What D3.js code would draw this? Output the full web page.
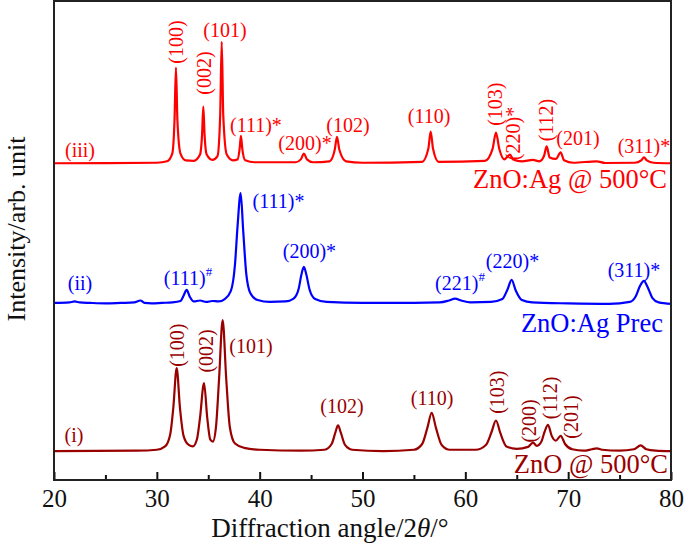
<!DOCTYPE html>
<html>
<head>
<meta charset="utf-8">
<script src="https://cdn.jsdelivr.net/npm/d3@7"></script>
<style>
  body { margin: 0; background: #fff; }
  svg text { font-family: "Liberation Serif", "Times New Roman", serif; }
</style>
</head>
<body>
<div id="chart"></div>
<script>

  ///////////////////////////////////////////////////////////////////////////
  ////////////////////////////////// Data ///////////////////////////////////
  ///////////////////////////////////////////////////////////////////////////

  // [2theta, intensity above the trace's own baseline]
  var zno500 = [
    [20,0],[28,0.1],[30,0.3],[30.8,1.0],[31.3,3.5],[31.6,9],[31.93,17.3],[32.25,9],[32.6,3.2],[33.1,1.3],
    [33.5,1.0],[33.9,2.5],[34.2,7],[34.59,14.2],[34.9,7],[35.2,2.4],[35.45,2.0],[35.75,5],[36.05,15],[36.4,27.3],
    [36.75,15],[37.1,5],[37.6,1.6],[38.5,0.7],[40,0.3],[44,0.1],[46.3,0.3],[47.0,1.5],[47.35,3.8],[47.62,5.4],
    [47.9,3.8],[48.3,1.3],[49,0.3],[52,0],[55,0.3],[55.8,1.5],[56.3,4.8],[56.73,8.0],[57.15,4.8],[57.7,1.3],
    [58.5,0.3],[61,0.3],[62.0,1.3],[62.55,4],[62.98,6.4],[63.4,3.8],[64,1.0],[65,0.5],[66.1,0.9],[66.58,1.8],
    [66.95,1.1],[67.4,2.0],[67.7,4],[68.04,5.5],[68.4,3.2],[68.8,2.2],[69.27,3.2],[69.7,1.5],[70.4,0.4],[71.5,0.1],
    [72.3,0.4],[72.77,0.6],[73.3,0.3],[75,0.1],[76.4,0.4],[77.05,1.2],[77.6,0.4],[78.5,0.1],[80,0]
  ]

  var agPrec = [
    [20,0],[21.5,0.1],[22.0,0.3],[22.5,0.1],[23.5,0],[25,-0.1],[26.5,0],[27.8,0.1],[28.4,0.5],[28.8,0],
    [29.5,-0.1],[30.5,0],[31.5,0.1],[32.3,0.4],[32.6,1.5],[32.9,2.7],[33.2,1.3],[33.6,0.3],[34.2,0.5],[34.8,0.2],
    [35.4,0.4],[36.0,0.3],[36.6,0.8],[37.2,2.5],[37.6,8],[37.85,16],[38.15,22.9],[38.4,15],[38.7,6],[39.1,2],
    [39.8,0.6],[41,0.2],[42.5,0.3],[43.3,0.9],[43.8,3],[44.05,5.8],[44.3,7.5],[44.55,5.8],[44.85,2.8],[45.4,0.8],
    [46.5,0.2],[50,0],[55,0],[57.5,0.1],[58.4,0.5],[59.0,0.9],[59.6,0.5],[60.5,0.1],[62.5,0.2],[63.6,0.8],
    [64.1,2.8],[64.5,4.8],[64.9,2.6],[65.5,0.6],[66.5,0.1],[70,-0.1],[74,-0.2],[76.0,0.2],[76.6,1.5],[77.0,3.6],
    [77.37,4.6],[77.7,3.4],[78.2,1.0],[78.8,0.1],[80,-0.2]
  ]

  var agZno500 = [
    [20,0],[30,0.1],[31.0,0.4],[31.5,2.0],[31.72,9],[31.86,19.9],[32.0,9],[32.3,2.0],[32.8,0.6],[33.6,0.5],
    [34.2,1.8],[34.4,6],[34.52,11.8],[34.64,6],[34.85,1.8],[35.4,0.7],[35.9,1.5],[36.16,10],[36.31,25.3],[36.46,10],
    [36.8,1.8],[37.4,0.6],[37.85,0.8],[38.05,3],[38.18,5.7],[38.31,3],[38.6,0.6],[39.5,0.2],[43.5,0.2],[44.0,0.8],
    [44.31,2.0],[44.6,0.8],[45.2,0.2],[46.8,0.4],[47.3,2.8],[47.52,5.5],[47.75,2.8],[48.4,0.4],[50,0.1],[55.8,0.3],
    [56.4,3],[56.63,6.6],[56.86,3],[57.4,0.3],[61.9,0.5],[62.65,3],[62.98,6.4],[63.3,3],[63.8,0.8],[64.1,1.4],
    [64.34,1.8],[64.65,0.8],[65.5,0.4],[66.58,0.7],[67.2,0.4],[67.65,1.5],[67.91,3.5],[68.2,1.2],[68.8,0.9],[69.27,2.25],
    [69.6,0.6],[70.5,0.1],[72.77,0.4],[73.6,0.05],[76.5,0.1],[77.1,0.6],[77.37,1.2],[77.65,0.6],[78.3,0.1],[80,0]
  ]

  var seriesNames = ["ZnO @ 500°C", "ZnO:Ag Prec", "ZnO:Ag @ 500°C"]
  var seriesOffsets = [6, 36.9, 66]
  var seriesColors = ["#990000", "#0000ff", "#ff0000"]

  // peak labels: [text, superscript, 2theta, intensity, vertical?]
  var zno500Labels = [
    ["(i)", "", 21.94, 7.9, false],
    ["(100)", "", 31.96, 28.1, true],
    ["(002)", "", 34.78, 26.9, true],
    ["(101)", "", 39.16, 26.5, false],
    ["(102)", "", 48.0, 14.0, false],
    ["(110)", "", 56.76, 15.6, false],
    ["(103)", "", 63.08, 18.3, true],
    ["(200)", "", 66.19, 12.3, true],
    ["(112)", "", 68.23, 17.1, true],
    ["(201)", "", 70.27, 13.1, true]
  ]

  var agPrecLabels = [
    ["(ii)", "", 22.53, 39.6, false],
    ["(111)", "#", 33.03, 40.6, false],
    ["(111)*", "", 41.83, 56.7, false],
    ["(200)*", "", 44.84, 46.25, false],
    ["(221)", "#", 59.48, 39.6, false],
    ["(220)*", "", 64.59, 44.2, false],
    ["(311)*", "", 76.4, 42.3, false]
  ]

  var agZno500Labels = [
    ["(iii)", "", 22.53, 67.3, false],
    ["(100)", "", 31.86, 91.25, true],
    ["(002)", "", 34.59, 84.8, true],
    ["(101)", "", 36.63, 92.3, false],
    ["(111)*", "", 39.64, 72.5, false],
    ["(200)*", "", 44.41, 68.75, false],
    ["(102)", "", 48.59, 72.5, false],
    ["(110)", "", 56.47, 74.4, false],
    ["(103)", "", 62.88, 78.3, true],
    ["(220)*", "", 64.63, 72.2, true],
    ["(112)", "", 67.84, 75, true],
    ["(201)", "", 70.95, 69.8, false],
    ["(311)*", "", 77.37, 68.1, false]
  ]

  // legend anchors (right aligned): [2theta, intensity]
  var legendAnchors = [[79.71, 1.46], [79.22, 30.8], [79.61, 60.8]]

  var xTicks = [20, 30, 40, 50, 60, 70, 80]
  var xMinorTicks = [25, 35, 45, 55, 65, 75]

  ///////////////////////////////////////////////////////////////////////////
  ///////////////////////////////// Setup ///////////////////////////////////
  ///////////////////////////////////////////////////////////////////////////

  var canvasDim = { width: 685, height: 547 }
  var margin = { top: 1, right: 14, bottom: 67, left: 54 }
  var width = canvasDim.width - margin.left - margin.right
  var height = canvasDim.height - margin.top - margin.bottom

  var xScale = d3.scaleLinear().domain([20, 80]).range([0, width])
  var yScale = d3.scaleLinear().domain([0, 99.8]).range([height, 0])

  var svg = d3.select("#chart").append("svg")
      .attr("width", canvasDim.width)
      .attr("height", canvasDim.height)
    .append("g")
      .attr("transform", "translate(" + margin.left + "," + margin.top + ")")

  ///////////////////////////////////////////////////////////////////////////
  ///////////////////////////////// Traces //////////////////////////////////
  ///////////////////////////////////////////////////////////////////////////

  var traces = [zno500, agPrec, agZno500]
  var labelSets = [zno500Labels, agPrecLabels, agZno500Labels]

  traces.forEach(function(pts, i) {
    var line = d3.line()
      .x(function(d) { return xScale(d[0]) })
      .y(function(d) { return yScale(d[1] + seriesOffsets[i]) })
      .curve(d3.curveMonotoneX)

    svg.append("path")
      .datum(pts)
      .attr("fill", "none")
      .attr("stroke", seriesColors[i])
      .attr("stroke-width", 2.2)
      .attr("stroke-linejoin", "round")
      .attr("d", line)

    // peak labels
    labelSets[i].forEach(function(l) {
      var t = svg.append("text")
        .attr("fill", seriesColors[i])
        .attr("font-size", 20)
        .attr("text-anchor", "middle")
      if (l[4]) {
        t.attr("transform", "translate(" + xScale(l[2]) + "," + yScale(l[3]) + ") rotate(-90)")
          .attr("dy", "0.33em")
      } else {
        t.attr("x", xScale(l[2])).attr("y", yScale(l[3]))
      }
      t.append("tspan").text(l[0])
      if (l[1]) {
        t.append("tspan").attr("font-size", 13).attr("dy", -9).text(l[1])
      }
    })

    // series name
    svg.append("text")
      .attr("x", xScale(legendAnchors[i][0]))
      .attr("y", yScale(legendAnchors[i][1]))
      .attr("text-anchor", "end")
      .attr("fill", seriesColors[i])
      .attr("font-size", 26.5)
      .text(seriesNames[i])
  })

  ///////////////////////////////////////////////////////////////////////////
  ////////////////////////////////// Axes ///////////////////////////////////
  ///////////////////////////////////////////////////////////////////////////

  var xAxis = svg.append("g")
    .attr("transform", "translate(0," + height + ")")
    .call(d3.axisBottom(xScale).tickValues(xTicks).tickSize(-8).tickPadding(9))
  xAxis.select(".domain").remove()
  xAxis.selectAll("line").attr("stroke", "#111").attr("stroke-width", 2)
  xAxis.selectAll("text")
    .attr("font-size", 25)
    .attr("fill", "#111")
    .style("font-family", "'Liberation Serif', serif")

  var xMinor = svg.append("g")
    .attr("transform", "translate(0," + height + ")")
    .call(d3.axisBottom(xScale).tickValues(xMinorTicks).tickSize(-5).tickFormat(""))
  xMinor.select(".domain").remove()
  xMinor.selectAll("line").attr("stroke", "#111").attr("stroke-width", 2)

  // frame
  svg.append("rect")
    .attr("x", 0).attr("y", 0)
    .attr("width", width).attr("height", height)
    .attr("fill", "none")
    .attr("stroke", "#222")
    .attr("stroke-width", 2)

  // axis titles
  var xTitle = svg.append("text")
    .attr("x", 276)
    .attr("y", height + 57)
    .attr("text-anchor", "middle")
    .attr("font-size", 27)
    .attr("fill", "#111")
  xTitle.append("tspan").text("Diffraction angle/2")
  xTitle.append("tspan").attr("font-style", "italic").text("θ")
  xTitle.append("tspan").text("/°")

  svg.append("text")
    .attr("transform", "translate(" + (-29) + "," + 228 + ") rotate(-90)")
    .attr("text-anchor", "middle")
    .attr("font-size", 26)
    .attr("fill", "#111")
    .text("Intensity/arb. unit")

</script>
</body>
</html>
